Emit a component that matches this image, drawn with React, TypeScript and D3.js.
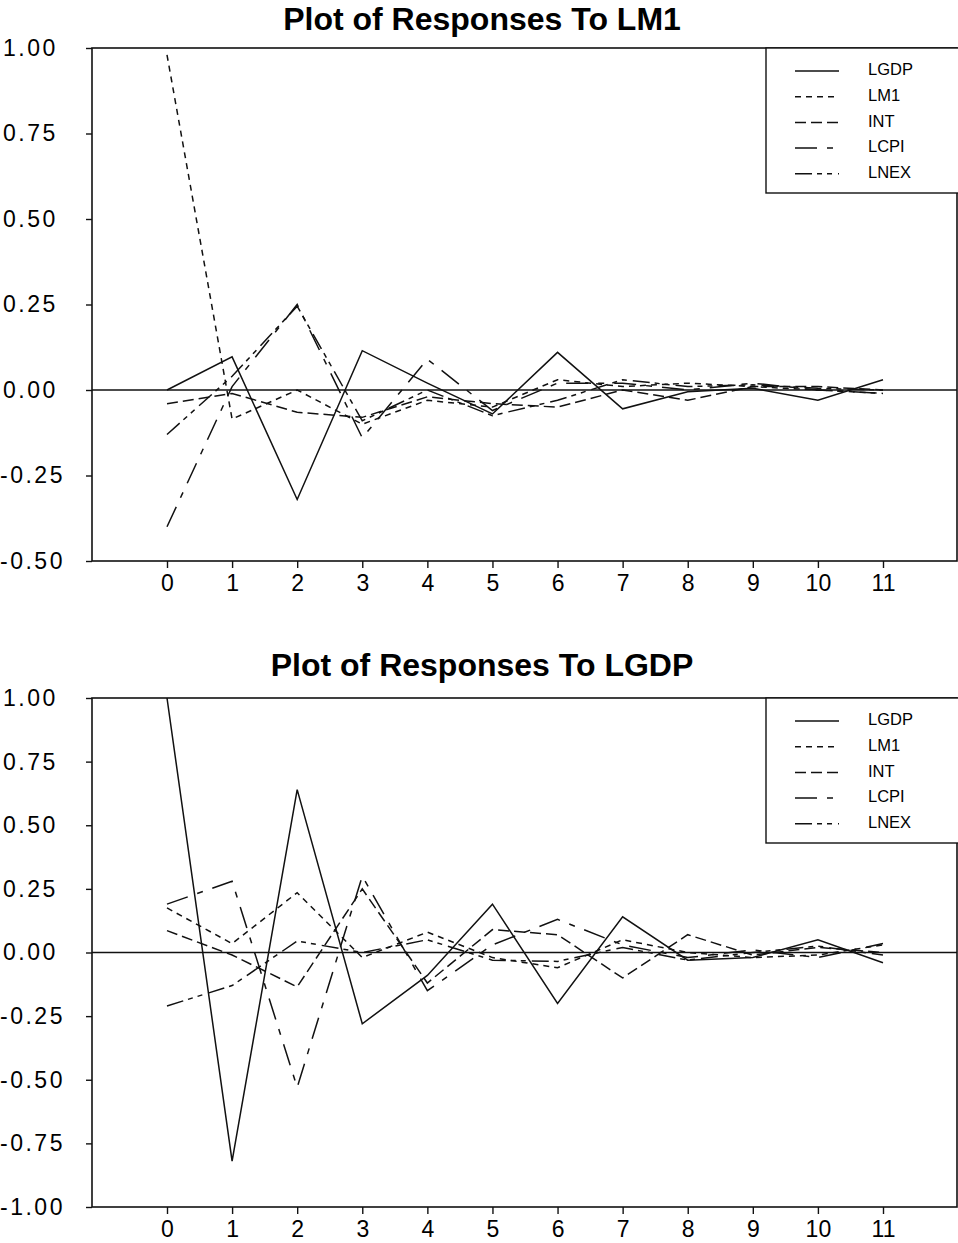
import React, { useEffect, useRef } from "react";
import * as d3 from "d3";

const horizons = [0, 1, 2, 3, 4, 5, 6, 7, 8, 9, 10, 11];
const seriesNames = ["LGDP", "LM1", "INT", "LCPI", "LNEX"];

// responses to a shock in LM1
const lm1_LGDP = [0.0, 0.097, -0.32, 0.115, 0.02, -0.07, 0.11, -0.055, -0.005, 0.005, -0.03, 0.03];
const lm1_LM1 = [0.98, -0.085, 0.0, -0.1, -0.03, -0.05, 0.03, 0.01, 0.02, 0.01, 0.0, -0.01];
const lm1_INT = [-0.04, -0.01, -0.065, -0.08, -0.02, -0.04, -0.05, 0.0, -0.03, 0.01, 0.01, 0.0];
const lm1_LCPI = [-0.4, 0.01, 0.25, -0.14, 0.09, -0.06, 0.02, 0.02, 0.0, 0.02, 0.0, -0.01];
const lm1_LNEX = [-0.13, 0.04, 0.245, -0.09, 0.0, -0.075, -0.03, 0.03, 0.01, 0.015, 0.005, 0.0];

// responses to a shock in LGDP
const lgdp_LGDP = [1.0, -0.82, 0.64, -0.28, -0.09, 0.19, -0.2, 0.14, -0.03, -0.02, 0.05, -0.04];
const lgdp_LM1 = [0.175, 0.035, 0.235, -0.02, 0.08, -0.02, -0.06, 0.05, 0.0, -0.02, -0.01, 0.03];
const lgdp_INT = [0.086, -0.01, -0.135, 0.25, -0.12, 0.09, 0.07, -0.1, 0.07, -0.01, 0.02, 0.0];
const lgdp_LCPI = [0.19, 0.28, -0.53, 0.3, -0.15, 0.03, 0.13, 0.03, -0.02, 0.01, -0.02, 0.035];
const lgdp_LNEX = [-0.21, -0.13, 0.045, 0.0, 0.05, -0.03, -0.035, 0.02, -0.03, 0.0, 0.025, -0.01];

const lm1Ticks = [-0.5, -0.25, 0, 0.25, 0.5, 0.75, 1];
const lgdpTicks = [-1, -0.75, -0.5, -0.25, 0, 0.25, 0.5, 0.75, 1];

const dashes = {
  LGDP: null,
  LM1: "6,5",
  INT: "11,5",
  LCPI: "22,10,6,10",
  LNEX: "17,5,5,5,5,6",
};

const FONT = "'Liberation Sans', Arial, sans-serif";
const W = 958;
const H = 1243;

// plain hyphen for negatives, like the original printout
const fmtY = (d) => d3.format(".2f")(d).replace("\u2212", "-");

function drawPanel(svg, { title, titleY, top, bottom, ticks, series }) {
  const left = 92;
  const right = 957;

  const x = d3.scaleLinear().domain([0, 11]).range([167, 883]);
  const y = d3.scaleLinear().domain([ticks[0], ticks[ticks.length - 1]]).range([bottom, top]);

  const g = svg.append("g");

  g.append("text")
    .attr("x", 482)
    .attr("y", titleY)
    .attr("text-anchor", "middle")
    .attr("dominant-baseline", "middle")
    .attr("font-family", FONT)
    .attr("font-weight", "bold")
    .attr("font-size", 32)
    .text(title);

  // frame
  g.append("rect")
    .attr("x", left)
    .attr("y", top)
    .attr("width", right - left)
    .attr("height", bottom - top)
    .attr("fill", "none")
    .attr("stroke", "#111")
    .attr("stroke-width", 1.6);

  // y axis (labels start at the page edge, like the printout)
  const ya = g.append("g")
    .attr("transform", `translate(${left},0)`)
    .call(d3.axisLeft(y).tickValues(ticks).tickSize(6).tickFormat(fmtY));
  ya.select(".domain").remove();
  ya.selectAll("text")
    .attr("x", (d) => -left + (d < 0 ? 0 : 3))
    .attr("text-anchor", "start")
    .attr("font-family", FONT)
    .attr("font-size", 23)
    .attr("letter-spacing", 2.5)
    .attr("fill", "#000");
  ya.selectAll("line").attr("stroke", "#111").attr("stroke-width", 1.4);

  // x axis
  const xa = g.append("g")
    .attr("transform", `translate(0,${bottom})`)
    .call(d3.axisBottom(x).tickValues(horizons).tickSize(7).tickPadding(7).tickFormat(d3.format("d")));
  xa.select(".domain").remove();
  xa.selectAll("text").attr("font-family", FONT).attr("font-size", 23).attr("fill", "#000");
  xa.selectAll("line").attr("stroke", "#111").attr("stroke-width", 1.4);

  // zero line
  g.append("line")
    .attr("x1", left)
    .attr("x2", right)
    .attr("y1", y(0))
    .attr("y2", y(0))
    .attr("stroke", "#111")
    .attr("stroke-width", 1.4);

  const line = d3.line().x((d, i) => x(horizons[i])).y((d) => y(d));

  seriesNames.forEach((name) => {
    g.append("path")
      .datum(series[name])
      .attr("d", line)
      .attr("fill", "none")
      .attr("stroke", "#111")
      .attr("stroke-width", 1.5)
      .attr("stroke-dasharray", dashes[name]);
  });

  // legend
  const lg = g.append("g").attr("transform", `translate(766,${top})`);
  lg.append("rect")
    .attr("width", 260)
    .attr("height", 145)
    .attr("fill", "#fff")
    .attr("stroke", "#111")
    .attr("stroke-width", 1.4);
  seriesNames.forEach((name, i) => {
    const ly = 23 + i * 25.7;
    lg.append("line")
      .attr("x1", 29)
      .attr("x2", 73)
      .attr("y1", ly)
      .attr("y2", ly)
      .attr("stroke", "#111")
      .attr("stroke-width", 1.5)
      .attr("stroke-dasharray", dashes[name]);
    lg.append("text")
      .attr("x", 102)
      .attr("y", ly)
      .attr("dominant-baseline", "middle")
      .attr("font-family", FONT)
      .attr("font-size", 16.5)
      .text(name);
  });
}

const App = () => {
  const svgRef = useRef(null);

  useEffect(() => {
    const svg = d3.select(svgRef.current);
    svg.selectAll("*").remove();

    svg.append("rect").attr("width", W).attr("height", H).attr("fill", "#fff");

    drawPanel(svg, {
      title: "Plot of Responses To LM1",
      titleY: 22,
      top: 48,
      bottom: 561,
      ticks: lm1Ticks,
      series: { LGDP: lm1_LGDP, LM1: lm1_LM1, INT: lm1_INT, LCPI: lm1_LCPI, LNEX: lm1_LNEX },
    });

    drawPanel(svg, {
      title: "Plot of Responses To LGDP",
      titleY: 668,
      top: 698,
      bottom: 1207,
      ticks: lgdpTicks,
      series: { LGDP: lgdp_LGDP, LM1: lgdp_LM1, INT: lgdp_INT, LCPI: lgdp_LCPI, LNEX: lgdp_LNEX },
    });
  }, []);

  return (
    <svg
      ref={svgRef}
      width={W}
      height={H}
      style={{ position: "absolute", left: 0, top: 0 }}
    ></svg>
  );
};

export default App;
